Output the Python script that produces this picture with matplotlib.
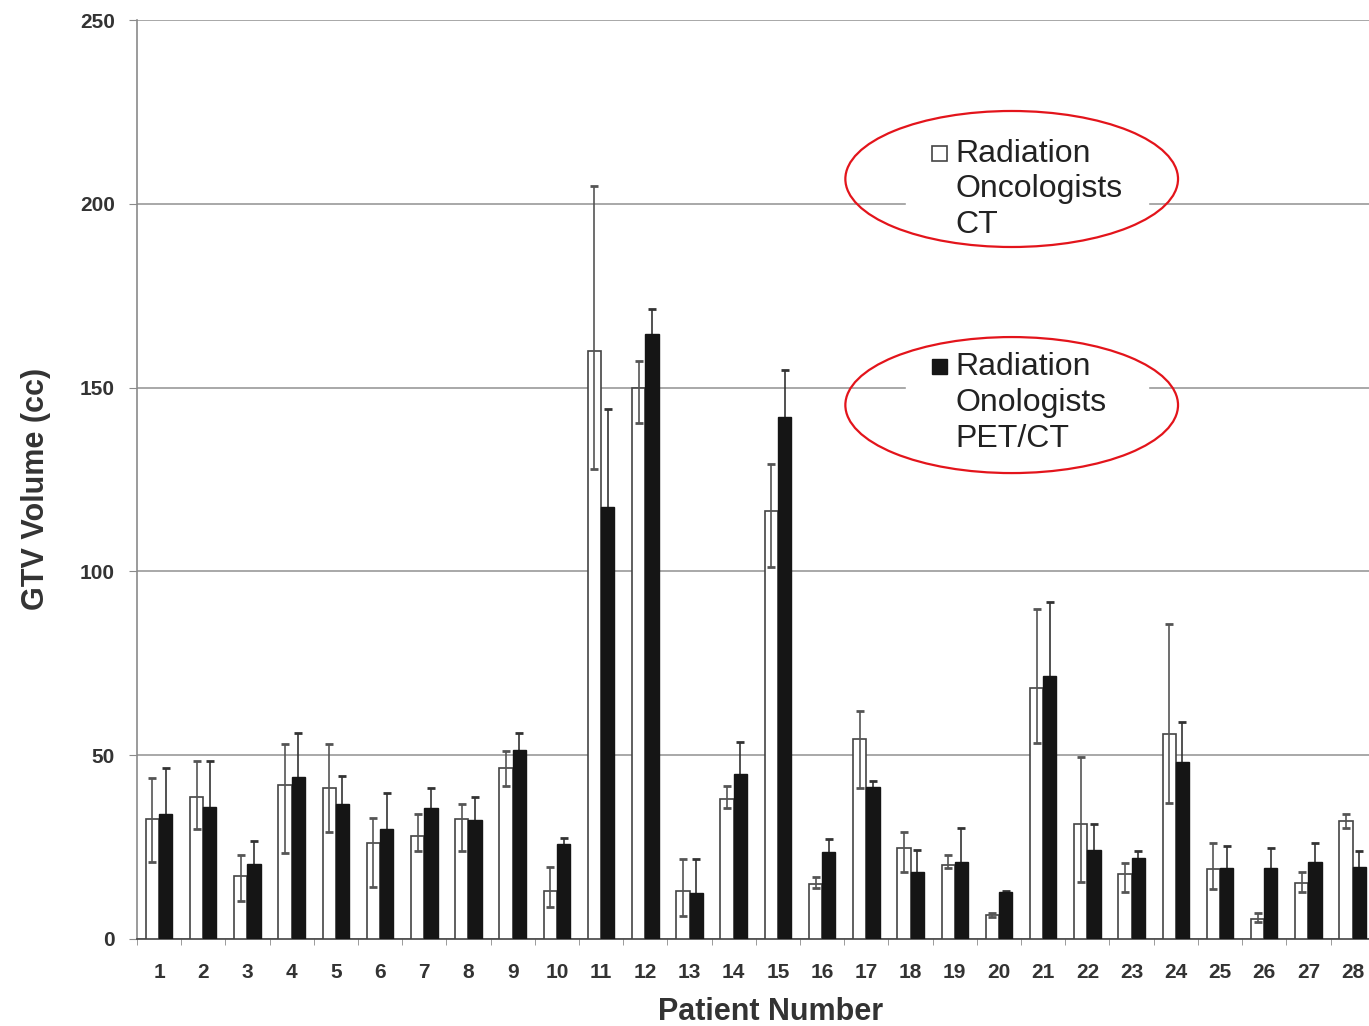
import numpy as np
import matplotlib.pyplot as plt
import matplotlib.patches as mpatches
from matplotlib.legend_handler import HandlerPatch
from matplotlib.container import BarContainer

plt.rcParams['font.family'] = ['Liberation Sans', 'DejaVu Sans']

patients = list(range(1, 29))

# Radiation oncologists, CT (mean, error bar up / down)
ct_mean = [32.6, 38.7, 17.1, 41.8, 41.0, 26.0, 28.1, 32.6, 46.4, 13.1,
           160.0, 149.8, 13.1, 38.0, 116.5, 15.0, 54.4, 24.8, 20.1, 6.5,
           68.2, 31.3, 17.6, 55.7, 19.0, 5.4, 15.1, 32.2]
ct_err_hi = [11.1, 9.7, 5.7, 11.2, 12.0, 6.8, 5.8, 4.1, 4.7, 6.6,
             44.8, 7.5, 8.6, 3.6, 12.7, 2.0, 7.7, 4.4, 2.7, 0.7,
             21.5, 18.3, 3.2, 30.0, 7.0, 1.6, 3.0, 1.7]
ct_err_lo = [11.6, 8.8, 6.8, 18.5, 11.8, 11.9, 4.1, 8.6, 4.8, 4.3,
             32.1, 9.5, 6.8, 2.3, 15.3, 1.2, 13.4, 6.7, 0.9, 0.5,
             14.8, 15.9, 4.7, 18.6, 5.5, 0.7, 2.2, 2.1]

# Radiation oncologists, PET/CT
pet_mean = [33.9, 36.0, 20.3, 44.2, 36.7, 29.8, 35.5, 32.4, 51.4, 25.8,
            117.4, 164.6, 12.6, 44.8, 141.9, 23.6, 41.4, 18.1, 21.0, 12.7,
            71.6, 24.2, 22.1, 48.1, 19.2, 19.2, 21.0, 19.7]
pet_err = [12.5, 12.4, 6.4, 11.9, 7.7, 9.8, 5.5, 6.3, 4.7, 1.8,
           26.9, 6.7, 9.1, 8.9, 12.9, 3.6, 1.7, 6.1, 9.1, 0.4,
           20.0, 7.1, 1.9, 10.8, 6.2, 5.6, 5.0, 4.3]

labels = ['Radiation\nOncologists\nCT', 'Radiation\nOnologists\nPET/CT']

x = np.array(patients)
w = 0.3

fig = plt.figure(figsize=(13.69, 10.26), dpi=100)
ax = fig.add_axes([0.1, 0.0848, 0.9, 0.8957])

ax.set_axisbelow(True)
ax.yaxis.grid(True, color='#9a9a9a', linewidth=1.2)

b1 = ax.bar(x - w / 2, ct_mean, w, color='white', edgecolor='#444444',
            linewidth=1.2, zorder=3, label=labels[0])
ax.errorbar(x - w / 2, ct_mean, yerr=[ct_err_lo, ct_err_hi], fmt='none',
            ecolor='#555555', elinewidth=1.2, capsize=3, capthick=2, zorder=4)

b2 = ax.bar(x + w / 2, pet_mean, w, color='#151515', edgecolor='#151515',
            linewidth=1.0, zorder=3, label=labels[1])
ax.errorbar(x + w / 2, pet_mean, yerr=pet_err, fmt='none',
            ecolor='#333333', elinewidth=1.2, capsize=3, capthick=2, zorder=2)

ax.set_xlim(0.5, 28.37)
ax.set_ylim(0, 250)
ax.set_yticks(range(0, 251, 50))
ax.set_xticks(x)
ax.set_xticks(np.arange(0.5, 28.5, 1), minor=True)

for s in ['top', 'right']:
    ax.spines[s].set_visible(False)
ax.spines['left'].set_color('#8a8a8a')
ax.spines['left'].set_linewidth(1.2)
ax.spines['bottom'].set_color('#444444')
ax.spines['bottom'].set_linewidth(1.2)

ax.tick_params(axis='y', length=6, color='#8a8a8a', pad=10,
               labelsize=15, labelcolor='#333333')
ax.tick_params(axis='x', which='major', length=0, pad=17.5,
               labelsize=15, labelcolor='#333333')
ax.tick_params(axis='x', which='minor', length=4, color='#8a8a8a')
for t in ax.get_xticklabels() + ax.get_yticklabels():
    t.set_fontweight('bold')

ax.set_ylabel('GTV Volume (cc)', fontsize=22, fontweight='bold', color='#333333')
ax.yaxis.set_label_coords(-0.07, 0.49)
ax.set_xlabel('Patient Number', fontsize=22, fontweight='bold', color='#333333')
ax.xaxis.set_label_coords(0.514, -0.063)


def square_at_top(legend, orig_handle, xdescent, ydescent, width, height, fontsize):
    # put the key square next to the first line of the label
    side = 0.48 * fontsize
    return mpatches.Rectangle((-xdescent + (width - side) / 2,
                               -ydescent + height / 2 - side / 2 + 1.14 * fontsize),
                              side, side)


def copy_bar_style(tgt, src):
    tgt.update_from(src.patches[0])


leg = ax.legend(handles=[b1, b2], loc='upper left', bbox_to_anchor=(0.611, 0.916),
                fontsize=23, frameon=True, fancybox=False, framealpha=1,
                edgecolor='white', borderpad=0.8, labelspacing=3.5,
                handlelength=0.5, handleheight=0.5, handletextpad=0.25,
                handler_map={BarContainer: HandlerPatch(patch_func=square_at_top,
                                                        update_func=copy_bar_style)})
for t in leg.get_texts():
    t.set_linespacing(1.25)
    t.set_color('#222222')
leg.set_zorder(5)

# red ovals around the legend entries
for cy in [0.827, 0.581]:
    ax.add_patch(mpatches.Ellipse((0.710, cy), 0.270, 0.148, transform=ax.transAxes,
                                  fill=False, edgecolor='#e3141b', linewidth=1.6,
                                  zorder=6, clip_on=False))

fig.savefig('out.png', dpi=100)
